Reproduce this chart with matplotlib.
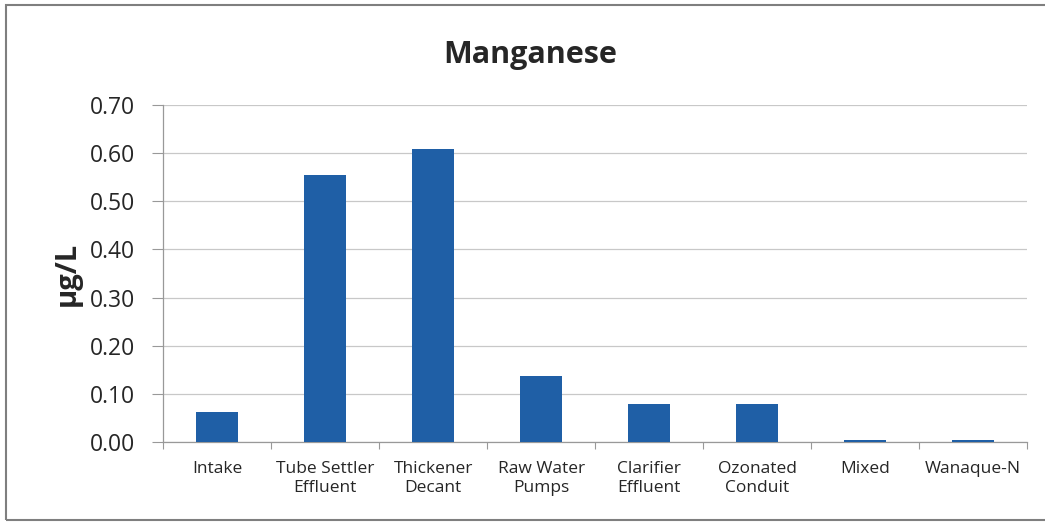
import numpy as np
import matplotlib.pyplot as plt
from matplotlib.patches import Rectangle

# Manganese concentrations by sampling location
locations = [
    "Intake",
    "Tube Settler\nEffluent",
    "Thickener\nDecant",
    "Raw Water\nPumps",
    "Clarifier\nEffluent",
    "Ozonated\nConduit",
    "Mixed",
    "Wanaque-N",
]
manganese = [0.062, 0.555, 0.609, 0.137, 0.079, 0.078, 0.003, 0.003]
y_ticks = [0.0, 0.1, 0.2, 0.3, 0.4, 0.5, 0.6, 0.7]

BAR_COLOR = "#1f5fa6"
TEXT_COLOR = "#262626"

plt.rcParams["font.family"] = ["Open Sans", "DejaVu Sans"]

fig = plt.figure(figsize=(10.45, 5.23), dpi=100)
ax = fig.add_axes([0.156, 0.155, 0.827, 0.644])

x = np.arange(len(locations))
ax.bar(x, manganese, width=0.39, color=BAR_COLOR, zorder=3)

ax.set_xlim(-0.5, len(locations) - 0.5)
ax.set_ylim(0, 0.7)

# y axis
ax.set_yticks(y_ticks)
ax.set_yticklabels([f"{v:.2f}" for v in y_ticks], fontsize=16.5, color=TEXT_COLOR)
ax.tick_params(axis="y", length=8, width=0.8, color="#999999", pad=12)
ax.grid(axis="y", color="#c8c8c8", linewidth=0.9, zorder=0)

# x axis: labels at centres, ticks between categories
ax.set_xticks(x)
ax.set_xticklabels(locations, fontsize=12.5, color=TEXT_COLOR, linespacing=1.25)
ax.set_xticks(np.arange(-0.5, len(locations), 1), minor=True)
ax.tick_params(axis="x", which="major", length=0, pad=14)
ax.tick_params(axis="x", which="minor", length=5, width=0.8, color="#999999")

for side in ["top", "right"]:
    ax.spines[side].set_visible(False)
for side in ["left", "bottom"]:
    ax.spines[side].set_color("#999999")
    ax.spines[side].set_linewidth(0.9)

ax.set_ylabel("µg/L", fontsize=21, fontweight="bold", color=TEXT_COLOR, labelpad=6)

fig.text(0.507, 0.895, "Manganese", ha="center", va="center",
         fontsize=22, fontweight="bold", color=TEXT_COLOR)

# Outer chart frame
frame = Rectangle((6 / 1045, 3 / 523), 1.1, 515 / 523, transform=fig.transFigure,
                  fill=False, edgecolor="#7f7f7f", linewidth=1.5)
fig.patches.append(frame)

plt.savefig("out.png", dpi=100)
